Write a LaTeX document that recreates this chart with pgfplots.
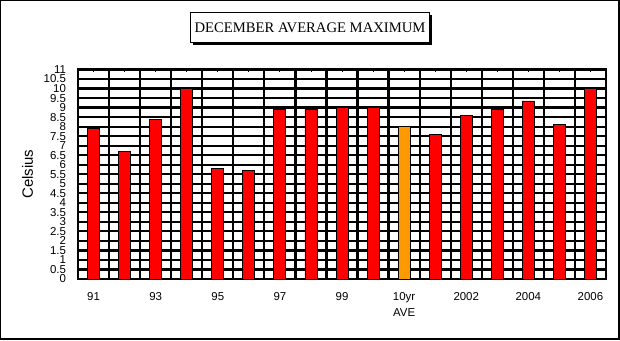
\documentclass[border=0pt]{standalone}
\usepackage{pgfplots}
\pgfplotsset{compat=1.18}
\usepackage{fontspec}
\setmainfont{Liberation Sans}
\newfontfamily\titlefont{Liberation Serif}
\usetikzlibrary{shadows}
\definecolor{barred}{RGB}{255,0,0}
\definecolor{barorange}{RGB}{255,153,0}
\begin{document}
\begin{tikzpicture}[x=1bp,y=1bp]
\useasboundingbox (0,0) rectangle (620,340);
\fill[white] (0,0) rectangle (620,340);
\begin{axis}[
  at={(78bp,61bp)}, anchor=south west,
  scale only axis, width=528bp, height=209.5bp,
  xmin=0.5, xmax=17.5, ymin=0, ymax=11,
  ytick={0,0.5,...,11},
  yticklabels={0,0.5,1,1.5,2,2.5,3,3.5,4,4.5,5,5.5,6,6.5,7,7.5,8,8.5,9,9.5,10,10.5,11},
  xtick={1,...,17},
  xticklabels={91,,93,,95,,97,,99,,{10yr\\AVE},,2002,,2004,,2006},
  extra x ticks={1.5,2.5,...,16.5},
  extra x tick labels={},
  extra x tick style={grid=major, major tick length=0pt},
  ymajorgrids,
  grid style={black, line width=2.2bp},
  axis line style={black, line width=2.2bp},
  every tick/.style={black, line width=0.8bp},
  ytick style={draw=none},
  major tick length=3bp,
  tick align=inside,
  /pgf/number format/assume math mode=true,
  ticklabel style={font=\fontsize{11.5}{16}\selectfont},
  xticklabel style={align=center, yshift=-10bp},
  yticklabel style={xshift=-8.5bp},
  ylabel={Celsius},
  every axis y label/.style={at={(axis description cs:0,0.5)}, xshift=-50.5bp, rotate=90, anchor=center, font=\fontsize{15}{18}\selectfont},
]
\addplot[ybar, bar shift=0pt, bar width=12bp, fill=barred, draw=black, line width=0.8bp] coordinates {
(1,7.9) (2,6.7) (3,8.4) (4,10.0) (5,5.8) (6,5.7) (7,8.9) (8,8.9) (9,9.0) (10,9.0)
(12,7.6) (13,8.6) (14,8.9) (15,9.35) (16,8.1) (17,10.0)};
\addplot[ybar, bar shift=0pt, bar width=12bp, fill=barorange, draw=black, line width=0.8bp] coordinates {(11,8.0)};
\end{axis}
\node[draw, fill=white, line width=0.8bp, inner xsep=4bp, minimum height=30bp,
  font=\titlefont\fontsize{14.7}{17}\selectfont,
  drop shadow={shadow xshift=2.5bp, shadow yshift=-2.5bp, fill=black, opacity=1}]
  at (310,312.7) {DECEMBER AVERAGE MAXIMUM};
\draw[line width=1bp] (0.5,0) -- (0.5,339.5) -- (620,339.5);
\draw[line width=2bp] (0,1) -- (619,1) -- (619,340);
\end{tikzpicture}
\end{document}
